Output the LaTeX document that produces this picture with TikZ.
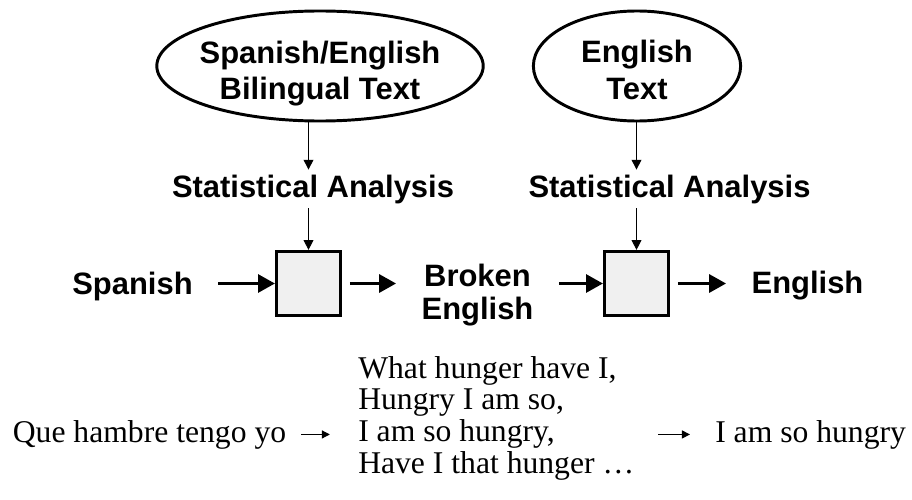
\documentclass[tikz,border=0pt]{standalone}
\usepackage{fontspec}
\setmainfont{Liberation Serif}
\setsansfont{Liberation Sans}
\usetikzlibrary{shapes.geometric,arrows.meta}

\begin{document}
\begin{tikzpicture}[x=0.025cm,y=-0.025cm,
  lab/.style={font=\sffamily\bfseries\fontsize{22}{26.3}\selectfont},
  src/.style={lab,ellipse,draw,line width=2.1pt,align=center,inner sep=0pt,minimum height=2.75cm},
  stage/.style={draw,fill=gray!12,line width=1.9pt,minimum size=1.6125cm,inner sep=0pt},
  word/.style={lab,inner xsep=18pt},
  feed/.style={-{Triangle[length=7pt,width=7pt]},line width=0.7pt},
  pass/.style={-{Triangle[length=12pt,width=12.8pt]},line width=2.1pt},
  ex/.style={font=\fontsize{22.5}{22.5}\selectfont,inner xsep=0pt},
  hop/.style={-{Triangle[length=5.7pt,width=5.7pt]},line width=0.85pt}]
\useasboundingbox (0,0) rectangle (912,499);
\node (0) [src,minimum width=8.15cm,inner xsep=-3.5pt,inner ysep=-1.5pt] at (320,66) {\rule{0pt}{26.7pt}Spanish/English\\Bilingual Text};
\node (1) [src,minimum width=5.18cm] at (637,66) {\rule{0pt}{22pt}English\\Text};
\node (2) [lab,anchor=base] at (313,197) {Statistical Analysis};
\node (3) [lab,anchor=base] at (669.5,197) {Statistical Analysis};
\node (4) [stage] at (308.5,283.5) {};
\node (5) [stage] at (636.5,283.5) {};
\node (6) [word,anchor=base] at (132.5,294) {Spanish};
\node (7) [word,align=center,font=\sffamily\bfseries\fontsize{22}{23.5}\selectfont] at (477.5,295.5) {Broken\\English};
\node (8) [word,anchor=base] at (807.5,293) {English};
\node (9) [ex,anchor=base] at (149.5,442) {Que hambre tengo yo};
\node (10) [ex,anchor=west,align=left] at (358,418) {What hunger have I,\\Hungry I am so,\\I am so hungry,\\Have I that hunger …};
\node (11) [ex,anchor=base west] at (715,442) {I am so hungry};
\draw[feed](0.south -| 4)to (2.north -| 4);
\draw[feed](1.south -| 5)to (3.north -| 5);
\draw[feed](2.south -| 4)to (4.north);
\draw[feed](3.south -| 5)to (5.north);
\draw[pass](4.west -| 6.east)to (4.west);
\draw[pass,shorten <=5.5pt](4.east)to (4.east -| 7.west);
\draw[pass](5.west -| 7.east)to (5.west);
\draw[pass,shorten <=5.5pt](5.east)to (5.east -| 8.west);
\draw[hop,shorten <=10.7pt,shorten >=20pt](9.east)to (9.east -| 10.west);
\draw[hop,shorten <=17pt,shorten >=17.8pt](10.east |- 11.west)to (11.west);
\end{tikzpicture}
\end{document}
